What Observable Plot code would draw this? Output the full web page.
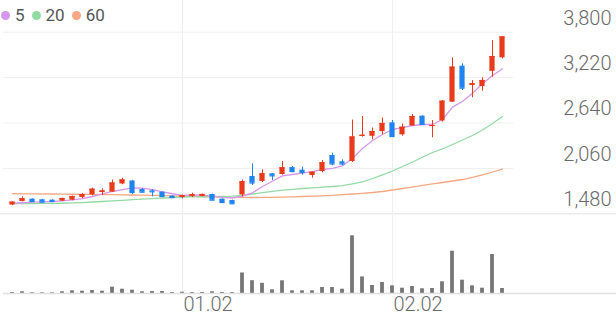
<!DOCTYPE html>
<html>
<head>
<meta charset="utf-8">
<script src="https://cdn.jsdelivr.net/npm/d3@7"></script>
<script src="https://cdn.jsdelivr.net/npm/@observablehq/plot@0.6"></script>
<style>
  html, body { margin: 0; padding: 0; background: #fff; }
  #chart { position: relative; width: 616px; height: 321px; overflow: hidden; font-family: Roboto, sans-serif; }
  #price { position: absolute; left: 0; top: 0; }
  #volume { position: absolute; left: 0; top: 216px; }
  #legend { position: absolute; left: 1px; top: 5px; font-size: 17px; color: #555; display: flex; align-items: center; z-index: 2; }
  #legend .item { display: flex; align-items: center; margin-right: 7px; }
  #legend .dot { width: 9px; height: 9px; border-radius: 50%; margin-right: 5px; }
</style>
</head>
<body>
<div id="chart">
  <div id="legend"></div>
  <div id="price"></div>
  <div id="volume"></div>
</div>
<script>
// ---- data ----
const open  = [1592,1637,1667,1659,1654,1641,1654,1688,1723,1752,1756,1861,1899,1790,1774,1756,1705,1688,1701,1701,1727,1667,1650,1720,1957,1893,1991,1982,2071,2037,1969,2020,2225,2144,2148,2470,2470,2531,2642,2489,2602,2727,2595,2666,2906,3366,3119,3106,3300,3473];
const high  = [1635,1697,1672,1664,1659,1680,1706,1739,1807,1799,1912,1935,1905,1803,1787,1761,1710,1718,1743,1731,1731,1671,1654,1912,2119,2042,1995,2148,2084,2075,2016,2161,2254,2170,2678,2723,2576,2704,2672,2627,2749,2732,2672,2927,3473,3396,3183,3217,3694,3745];
const low   = [1585,1632,1632,1622,1632,1637,1646,1672,1710,1714,1752,1850,1727,1746,1697,1697,1684,1672,1688,1697,1650,1620,1604,1695,1842,1880,1905,1973,2004,1973,1935,2004,2093,2093,2135,2459,2425,2489,2455,2471,2598,2612,2451,2650,2902,3055,2962,3046,3225,3460];
const close = [1628,1672,1637,1628,1637,1675,1701,1723,1794,1771,1873,1912,1752,1756,1761,1701,1688,1710,1723,1727,1654,1624,1608,1889,1873,1991,1965,2068,2020,2008,2011,2132,2116,2116,2461,2483,2531,2634,2467,2586,2723,2621,2608,2918,3353,3085,3141,3183,3489,3739];
const volume = [10,17,7,7,7,17,27,23,30,23,63,43,33,17,20,20,10,13,10,10,17,10,10,205,128,102,37,127,27,27,27,60,60,43,577,166,80,110,77,53,70,47,50,117,423,133,77,53,390,50];
const ma5  = [1615,1621,1628,1633,1637,1646,1659,1675,1701,1736,1765,1790,1810,1807,1790,1761,1736,1716,1720,1718,1707,1691,1682,1705,1748,1829,1896,1965,1982,1999,2020,2046,2059,2093,2186,2314,2416,2493,2557,2582,2608,2621,2621,2685,2842,2915,3021,3141,3247,3332];
const ma20 = [1609,1609,1610,1612,1613,1615,1619,1624,1631,1637,1645,1652,1660,1668,1675,1682,1688,1692,1695,1697,1700,1702,1706,1716,1733,1750,1767,1783,1793,1803,1812,1821,1829,1839,1861,1889,1931,1976,2027,2084,2142,2202,2263,2308,2365,2423,2480,2551,2634,2723];
const ma60 = [1737,1735,1735,1734,1733,1732,1730,1729,1727,1725,1724,1721,1720,1718,1715,1713,1710,1707,1704,1701,1698,1695,1691,1690,1688,1690,1691,1693,1697,1701,1705,1710,1716,1724,1733,1742,1752,1765,1784,1803,1822,1842,1861,1880,1899,1918,1944,1976,2014,2052];
const yTicks = [1480, 2060, 2640, 3220, 3800];
const xTickIndex = [17, 38];
const xTickLabels = ["01.02", "02.02"];
const maLabels = ["5", "20", "60"];
const maColors = ["#d597ea", "#94daa4", "#f7a783"];

const UP = "#ea3a1c", DOWN = "#1f84f0";
const n = open.length;
const idx = d3.range(n);
const data = idx.map(i => ({i, o: open[i], h: high[i], l: low[i], c: close[i], v: volume[i],
  ma5: ma5[i], ma20: ma20[i], ma60: ma60[i], col: close[i] >= open[i] ? UP : DOWN}));

// legend
const legend = document.getElementById("legend");
maLabels.forEach((lab, k) => {
  const it = document.createElement("span"); it.className = "item";
  const dot = document.createElement("span"); dot.className = "dot"; dot.style.background = maColors[k];
  const t = document.createElement("span"); t.textContent = lab;
  it.appendChild(dot); it.appendChild(t); legend.appendChild(it);
});

const xScale = {type: "band", domain: idx, range: [0, 513.3], padding: 0, axis: null};
const fmt = d3.format(",");

const price = Plot.plot({
  width: 616, height: 216,
  marginTop: 0, marginBottom: 0, marginLeft: 3, marginRight: 103,
  x: xScale,
  y: {domain: [1480, 3800], range: [213.3, 31.7], axis: null},
  color: {type: "identity"},
  style: {fontFamily: "Roboto, sans-serif", background: "transparent", overflow: "visible"},
  marks: [
    Plot.ruleY(yTicks.slice(1), {stroke: "#efefef", strokeWidth: 1}),
    Plot.ruleY(yTicks.slice(0, 1), {stroke: "#e4e4e4", strokeWidth: 1, insetLeft: -3, insetRight: -103}),
    Plot.ruleX(xTickIndex, {x: d => d, stroke: "#efefef", strokeWidth: 1}),
    Plot.lineY(data, {x: "i", y: "ma60", stroke: maColors[2], strokeWidth: 1.3}),
    Plot.lineY(data, {x: "i", y: "ma20", stroke: maColors[1], strokeWidth: 1.3}),
    Plot.lineY(data, {x: "i", y: "ma5", stroke: maColors[0], strokeWidth: 1.3}),
    Plot.ruleX(data, {x: "i", y1: "l", y2: "h", stroke: "col", strokeWidth: 1}),
    Plot.barY(data, {x: "i", y1: "o", y2: "c", fill: "col", insetLeft: 2.4, insetRight: 2.4}),
    Plot.tickY(data, {x: "i", y: "c", stroke: "col", strokeWidth: 1.2, insetLeft: 2.4, insetRight: 2.4}),
    Plot.text(yTicks, {y: d => d, text: d => fmt(d), frameAnchor: "right", textAnchor: "end",
      dx: 98, dy: -14, fontSize: 20, fontWeight: 300, fill: "#6a6a6a"})
  ]
});
document.getElementById("price").appendChild(price);

const vol = Plot.plot({
  width: 616, height: 105,
  marginTop: 0, marginBottom: 28, marginLeft: 3, marginRight: 0,
  x: xScale,
  y: {domain: [0, 600], range: [77, 17], axis: null},
  style: {fontFamily: "Roboto, sans-serif", background: "transparent", overflow: "visible"},
  marks: [
    Plot.ruleX(xTickIndex, {x: d => d, stroke: "#efefef", strokeWidth: 1}),
    Plot.barY(data, {x: "i", y: "v", fill: "#777", insetLeft: 3.1, insetRight: 3.1}),
    Plot.ruleY([0], {stroke: "#e0e0e0", strokeWidth: 1.5}),
    Plot.text(xTickIndex, {x: d => d, text: (d, k) => xTickLabels[k], frameAnchor: "bottom",
      textAnchor: "start", dx: 1, dy: 17, fontSize: 20, fontWeight: 300, fill: "#6a6a6a"})
  ]
});
document.getElementById("volume").appendChild(vol);
</script>
</body>
</html>
